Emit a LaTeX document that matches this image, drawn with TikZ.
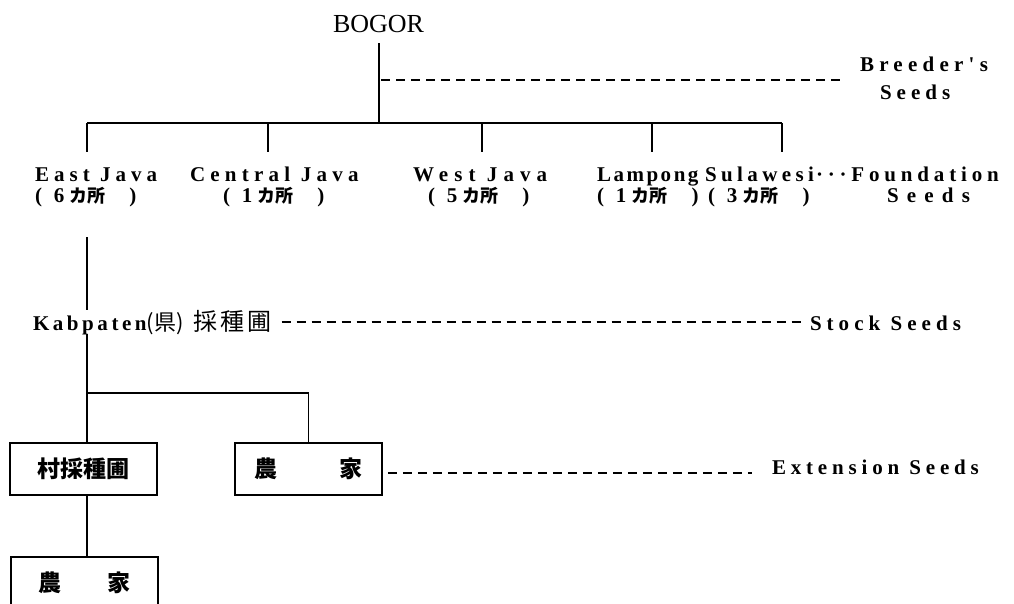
\documentclass[tikz,border=0pt]{standalone}
\usepackage{fontspec}
\setmainfont{Liberation Serif}
\newfontfamily\spc[LetterSpace=24]{Liberation Serif}
\newfontfamily\cjk{Noto Sans CJK JP}
\newcommand{\LS}[1]{\addfontfeature{LetterSpace=#1}}
\newcommand{\kasho}[1]{{\rmfamily\bfseries (}\hspace{12pt}{\rmfamily\bfseries #1}\hspace{5pt}{\fontsize{18}{20}\selectfont\cjk カ所}\hspace{24pt}{\rmfamily\bfseries )}}
\begin{document}
\begin{tikzpicture}[x=1pt,y=-1pt,
  lbl/.style={inner sep=0pt, outer sep=0pt, anchor=base west, font=\fontsize{21}{23}\selectfont\spc\bfseries},
  tree/.style={line width=1.7pt},
  lead/.style={line width=1.6pt, dash pattern=on 9pt off 6pt},
  boxn/.style={draw, line width=1.9pt, minimum width=147pt, minimum height=52pt, inner sep=0pt, font=\fontsize{23}{26}\selectfont\cjk\bfseries}]
\fill[white] (0,0) rectangle (1014,604);
\useasboundingbox (0,0) rectangle (1014,604);

% labels
\node[lbl, font=\fontsize{26}{28}\selectfont\rmfamily] (bogor) at (333,33) {BOGOR};
\node[lbl] (breed) at (860,72) {\LS{25}Breeder's};
\node[lbl] (bseeds) at (880,100) {Seeds};

\node[lbl] (ej) at (35,182) {East Java};
\node[lbl] (cj) at (190,182) {\LS{25}Central Java};
\node[lbl] (wj) at (413,182) {\LS{29}West Java};
\node[lbl] (lp) at (597,182) {\LS{12}Lampong};
\node[lbl] (sw) at (705,182) {\LS{21}Sulawesi};
\node[lbl] (fd) at (816,182) {\LS{23}···Foundation};
\node[lbl] (fseeds) at (887,203) {\LS{39}Seeds};

\node[lbl] (ej2) at (35,203) {\kasho{6}};
\node[lbl] (cj2) at (223,203) {\kasho{1}};
\node[lbl] (wj2) at (428,203) {\kasho{5}};
\node[lbl] (lp2) at (597,203) {\kasho{1}};
\node[lbl] (sw2) at (708,203) {\kasho{3}};

\node[lbl] (kab) at (33,330) {\LS{17}Kabpaten{\fontsize{22}{24}\selectfont\cjk\mdseries (県)}\hspace{10pt}{\fontsize{24}{26}\selectfont\cjk\mdseries 採\hspace{3pt}種\hspace{3pt}圃}};
\node[lbl] (stock) at (810,330) {Stock Seeds};
\node[lbl] (ext) at (772,474) {\LS{23}Extension Seeds};

% boxes
\node[boxn] (v1) at (83.5,469) {村採種圃};
\node[boxn] (f1) at (308.5,469) {農\hspace{62pt}家};
\node[boxn] (f2) at (84.5,583) {農\hspace{47pt}家};

% tree
\coordinate (b0) at (379,123);
\coordinate (b1) at (87,123);
\coordinate (b5) at (782,123);
\coordinate (d1) at (87,152);
\coordinate (d2) at (268,152);
\coordinate (d3) at (482,152);
\coordinate (d4) at (652,152);
\coordinate (d5) at (782,152);
\draw[tree, shorten <=10pt] (bogor.south -| b0) -- (b0);
\draw[tree] (b1) -- (b5);
\draw[tree] (b1) -- (d1);
\draw[tree] (d2 |- b1) -- (d2);
\draw[tree] (d3 |- b1) -- (d3);
\draw[tree] (d4 |- b1) -- (d4);
\draw[tree] (b5) -- (d5);

\coordinate (e1) at (87,237);
\draw[tree] (e1) -- (kab.north -| e1);
\draw[tree] (kab.south -| e1) -- (v1.north -| e1);
\coordinate (br) at (87,393);
\draw[tree] (br) -- (br -| f1.north) -- (f1.north);
\draw[tree] (v1.south -| e1) -- (f2.north -| e1);

% leaders
\coordinate (bd) at (381,80);
\draw[lead] (bd) -- ([xshift=-15pt]breed.west |- bd);
\draw[lead] ([xshift=10pt]kab.east) -- ([xshift=-7pt]stock.west |- kab.east);
\draw[lead] ([xshift=5pt,yshift=-4pt]f1.east) -- ([xshift=-20pt,yshift=-4pt]ext.west |- f1.east);
\end{tikzpicture}
\end{document}
